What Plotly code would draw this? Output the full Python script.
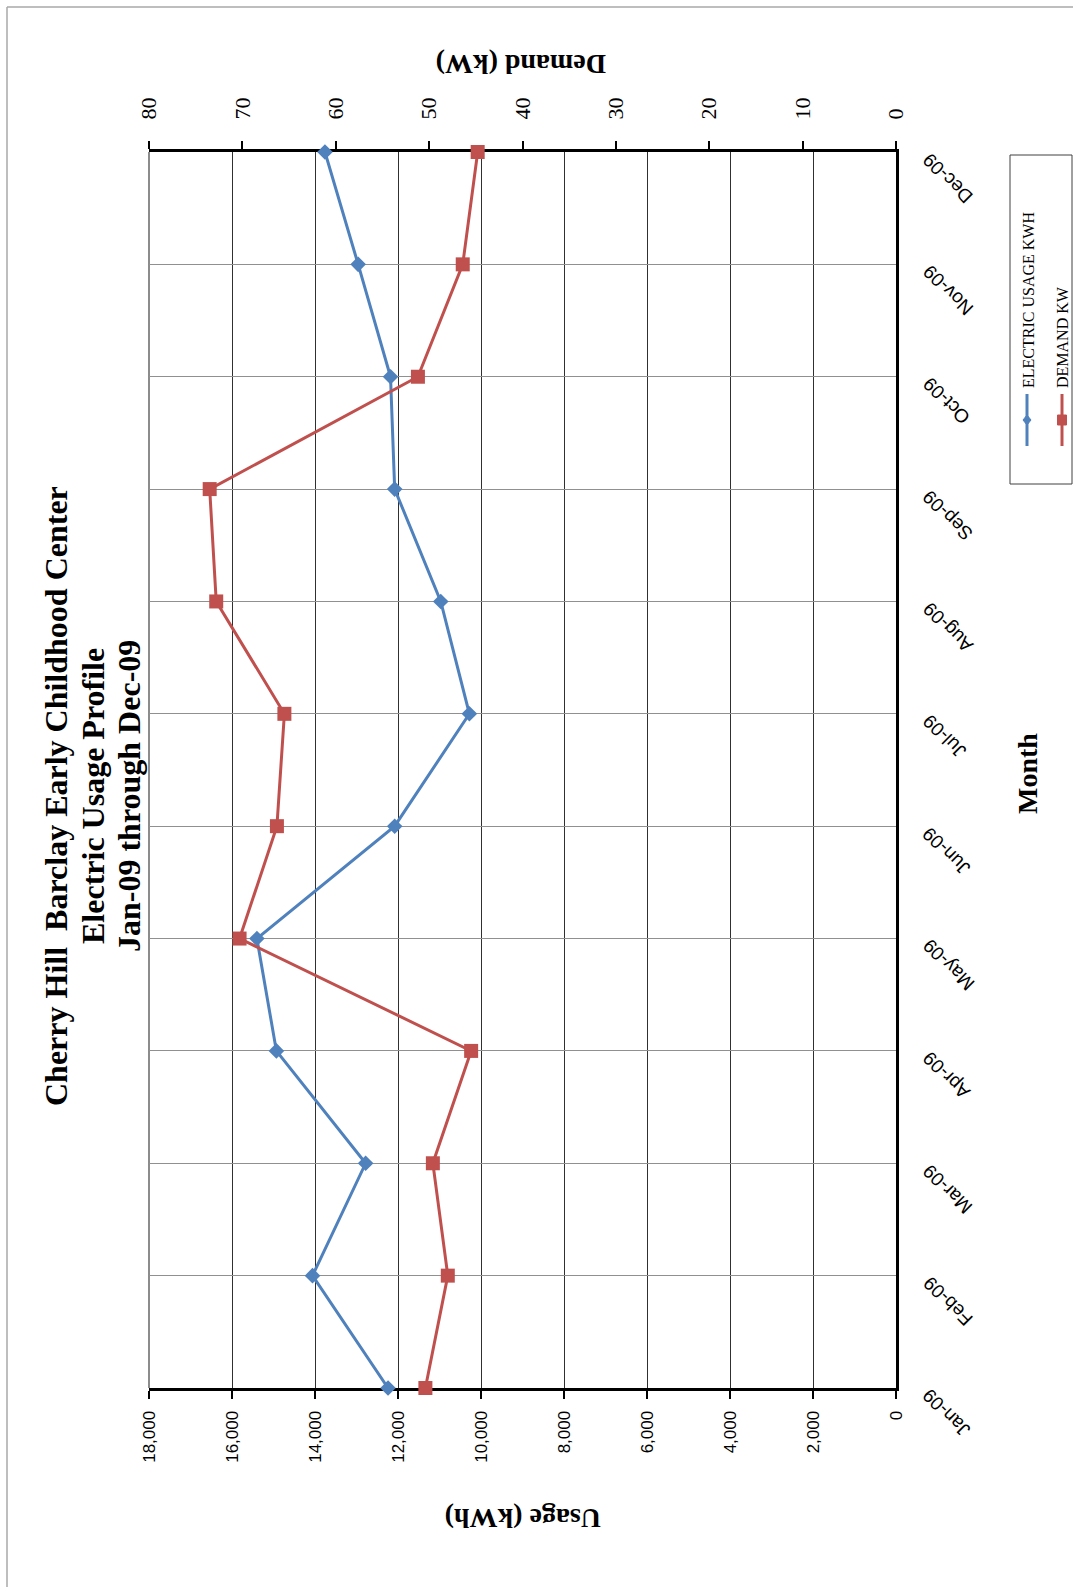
import plotly.graph_objects as go

# ---------------- data ----------------
months = ["Jan-09", "Feb-09", "Mar-09", "Apr-09", "May-09", "Jun-09",
          "Jul-09", "Aug-09", "Sep-09", "Oct-09", "Nov-09", "Dec-09"]
usage_kwh = [12240, 14060, 12780, 14930, 15400, 12080,
             10280, 10970, 12080, 12180, 12960, 13760]
demand_kw = [50.4, 48.0, 49.6, 45.5, 70.3, 66.3,
             65.5, 72.8, 73.5, 51.2, 46.4, 44.8]
usage_ticks = list(range(0, 18001, 2000))
demand_ticks = list(range(0, 81, 10))

title_lines = ["Cherry Hill  Barclay Early Childhood Center",
               "Electric Usage Profile",
               "Jan-09 through Dec-09"]
series_names = ["ELECTRIC USAGE KWH", "DEMAND KW"]

# ---------------- layout geometry (pixels) ----------------
FIG_W, FIG_H = 1073, 1587
L, R, T, B = 149, 896, 152, 1388
PW, PH = R - L, B - T


def px_x(p):
    return (p - L) / PW


def px_y(p):
    return (B - p) / PH


BLUE = "#4F81BD"
RED = "#C0504D"
SERIF = "Liberation Serif"
SANS = "Liberation Sans"

fig = go.Figure()
fig.add_trace(go.Scatter(
    x=usage_kwh, y=months, xaxis="x", yaxis="y", name=series_names[0],
    mode="lines+markers", cliponaxis=False,
    line=dict(color=BLUE, width=3),
    marker=dict(symbol="diamond", size=12, color=BLUE),
))
fig.add_trace(go.Scatter(
    x=demand_kw, y=months, xaxis="x2", yaxis="y", name=series_names[1],
    mode="lines+markers", cliponaxis=False,
    line=dict(color=RED, width=3),
    marker=dict(symbol="square", size=14, color=RED),
))

fig.update_layout(
    width=FIG_W, height=FIG_H,
    margin=dict(l=L, r=FIG_W - R, t=T, b=FIG_H - B, pad=0),
    paper_bgcolor="white", plot_bgcolor="white",
    showlegend=False,
    xaxis=dict(
        range=[18000, 0], tickmode="array", tickvals=usage_ticks,
        ticktext=[f"{v:,}" for v in usage_ticks],
        tickangle=-90, side="bottom",
        showline=True, linecolor="black", linewidth=3,
        ticks="outside", ticklen=8, tickwidth=2, tickcolor="black",
        ticklabelstandoff=5,
        showgrid=True, gridcolor="#303030", gridwidth=1,
        zeroline=False, layer="below traces",
        tickfont=dict(family=SANS, size=17, color="black"),
    ),
    xaxis2=dict(
        range=[80, 0], tickmode="array", tickvals=demand_ticks,
        overlaying="x", side="top", anchor="y",
        tickangle=-90,
        showline=True, linecolor="black", linewidth=3,
        ticks="outside", ticklen=8, tickwidth=2, tickcolor="black",
        ticklabelstandoff=17,
        showgrid=False, zeroline=False, layer="below traces",
        tickfont=dict(family=SERIF, size=22, color="black"),
    ),
    yaxis=dict(
        type="category", categoryorder="array", categoryarray=months,
        range=[0, 11], side="right",
        showline=True, linecolor="black", linewidth=3,
        ticks="", showticklabels=False,
        showgrid=True, gridcolor="#909090", gridwidth=1,
        zeroline=False, layer="below traces",
    ),
)

annotations = []
# title (three rotated lines)
for line_text, cx in zip(title_lines, [56, 93, 129]):
    annotations.append(dict(
        text=f"<b>{line_text}</b>",
        xref="paper", yref="paper", x=px_x(cx), y=px_y(796),
        xanchor="center", yanchor="middle", textangle=-90, showarrow=False,
        font=dict(family=SERIF, size=32, color="black"),
    ))
# axis titles
annotations.append(dict(
    text="<b>Usage (kWh)</b>", xref="paper", yref="paper",
    x=px_x(523), y=px_y(1519), xanchor="center", yanchor="middle",
    textangle=180, showarrow=False, font=dict(family=SERIF, size=28, color="black"),
))
annotations.append(dict(
    text="<b>Demand (kW)</b>", xref="paper", yref="paper",
    x=px_x(521), y=px_y(64), xanchor="center", yanchor="middle",
    textangle=180, showarrow=False, font=dict(family=SERIF, size=28, color="black"),
))
annotations.append(dict(
    text="<b>Month</b>", xref="paper", yref="paper",
    x=px_x(1027), y=px_y(774), xanchor="center", yanchor="middle",
    textangle=-90, showarrow=False, font=dict(family=SERIF, size=28, color="black"),
))
# month tick labels (category axis, rotated)
for m in months:
    annotations.append(dict(
        text=m, xref="paper", yref="y", x=px_x(916), y=m,
        xanchor="left", yanchor="top", yshift=6, textangle=-135,
        showarrow=False, font=dict(family=SANS, size=19, color="black"),
    ))
# legend texts
annotations.append(dict(
    text=series_names[0], xref="paper", yref="paper",
    x=px_x(1028), y=px_y(390), xanchor="center", yanchor="bottom",
    textangle=-90, showarrow=False, font=dict(family=SERIF, size=16, color="black"),
))
annotations.append(dict(
    text=series_names[1], xref="paper", yref="paper",
    x=px_x(1062), y=px_y(390), xanchor="center", yanchor="bottom",
    textangle=-90, showarrow=False, font=dict(family=SERIF, size=16, color="black"),
))
fig.update_layout(annotations=annotations)

shapes = []
# outer chart border (only top/left visible, chart cropped)
shapes.append(dict(type="line", xref="paper", yref="paper",
                   x0=px_x(7), x1=px_x(1100), y0=px_y(7), y1=px_y(7),
                   line=dict(color="#a8a8a8", width=1.5)))
shapes.append(dict(type="line", xref="paper", yref="paper",
                   x0=px_x(7), x1=px_x(7), y0=px_y(7), y1=px_y(1620),
                   line=dict(color="#a8a8a8", width=1.5)))
# plot-area left border
shapes.append(dict(type="line", xref="paper", yref="paper",
                   x0=0, x1=0, y0=0, y1=1, layer="below",
                   line=dict(color="#8c8c8c", width=2)))
# legend box
shapes.append(dict(type="rect", xref="paper", yref="paper",
                   x0=px_x(1010), x1=px_x(1072), y0=px_y(484), y1=px_y(155),
                   line=dict(color="#404040", width=1), fillcolor="rgba(0,0,0,0)"))
# legend line samples
shapes.append(dict(type="line", xref="paper", yref="paper",
                   x0=px_x(1027), x1=px_x(1027), y0=px_y(394), y1=px_y(446),
                   line=dict(color=BLUE, width=3)))
shapes.append(dict(type="line", xref="paper", yref="paper",
                   x0=px_x(1062), x1=px_x(1062), y0=px_y(394), y1=px_y(446),
                   line=dict(color=RED, width=3)))
shapes.append(dict(type="path", xref="paper", yref="paper",
                   xsizemode="pixel", ysizemode="pixel",
                   xanchor=px_x(1027), yanchor=px_y(420),
                   path="M 0 5 L 4 0 L 0 -5 L -4 0 Z",
                   fillcolor=BLUE, line=dict(color=BLUE, width=1)))
shapes.append(dict(type="rect", xref="paper", yref="paper",
                   xsizemode="pixel", ysizemode="pixel",
                   xanchor=px_x(1062), yanchor=px_y(420),
                   x0=-4.5, x1=4.5, y0=-5, y1=5,
                   fillcolor=RED, line=dict(color=RED, width=1)))
fig.update_layout(shapes=shapes)

fig.write_html(
    "out.html",
    config={"displayModeBar": False},
    post_script="document.body.style.margin='0px';document.body.style.overflow='hidden';",
)
